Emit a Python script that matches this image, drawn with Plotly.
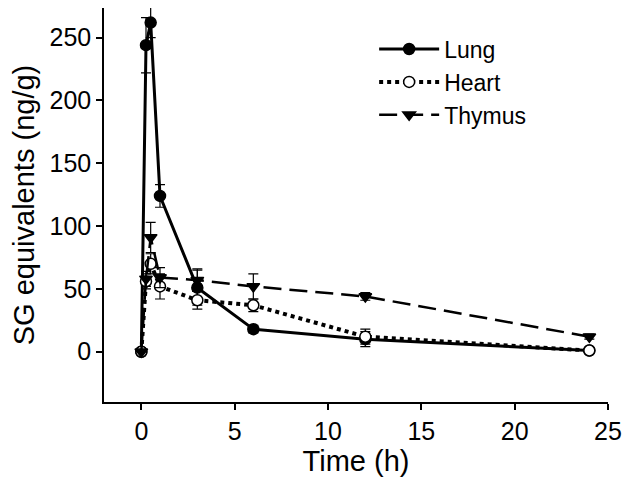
import plotly.graph_objects as go

time_h = [0, 0.25, 0.5, 1, 3, 6, 12, 24]

lung = [0, 244, 262, 124, 51, 18, 10, 1]
lung_err = [0, 22, 12, 9, 14, 3, 6, 1]

heart = [0, 56, 70, 52, 41, 37, 12, 1]
heart_err = [0, 6, 8, 10, 7, 5, 6, 1]

thymus = [0, 58, 91, 59, 57, 52, 44, 12]
thymus_err = [0, 6, 12, 8, 9, 10, 3, 2]

FONT = "Liberation Sans, Arial, sans-serif"

fig = go.Figure()

def add(name, y, err, dash, symbol, fill, lw):
    fig.add_trace(go.Scatter(
        x=time_h, y=y, name=name, mode="lines+markers",
        line=dict(color="black", width=lw, dash=dash),
        marker=dict(symbol=symbol, size=11, color=fill,
                    line=dict(color="black", width=1.5)),
        error_y=dict(type="data", array=err, visible=True,
                     color="black", thickness=1.2, width=5),
    ))

add("Lung", lung, lung_err, "solid", "circle", "black", 3)
add("Heart", heart, heart_err, "4px,4px", "circle", "white", 4)
add("Thymus", thymus, thymus_err, "18px,8px", "triangle-down", "black", 2.5)

fig.update_layout(
    width=640, height=482,
    margin=dict(l=96, r=40, t=0, b=88),
    paper_bgcolor="white", plot_bgcolor="white",
    font=dict(family=FONT, size=25, color="black"),
    showlegend=True,
    legend=dict(x=0.536, y=0.812, xanchor="left", yanchor="middle",
                bgcolor="rgba(0,0,0,0)", font=dict(size=23),
                itemwidth=60, tracegroupgap=0),
    xaxis=dict(
        range=[-2, 25], tickvals=[0, 5, 10, 15, 20, 25],
        showline=True, linecolor="black", linewidth=1.5,
        ticks="outside", ticklen=6, tickwidth=1.5, tickcolor="black",
        showgrid=False, zeroline=False,
        title=dict(text="Time (h)", font=dict(size=29), standoff=2),
        tickfont=dict(size=25),
    ),
    yaxis=dict(
        range=[-40, 273.6], tickvals=[0, 50, 100, 150, 200, 250],
        showline=True, linecolor="black", linewidth=1.5,
        ticks="outside", ticklen=6, tickwidth=1.5, tickcolor="black",
        showgrid=False, zeroline=False,
        title=dict(text="SG equivalents (ng/g)", font=dict(size=29), standoff=11),
        tickfont=dict(size=25),
    ),
)

fig.write_html("out.html")
